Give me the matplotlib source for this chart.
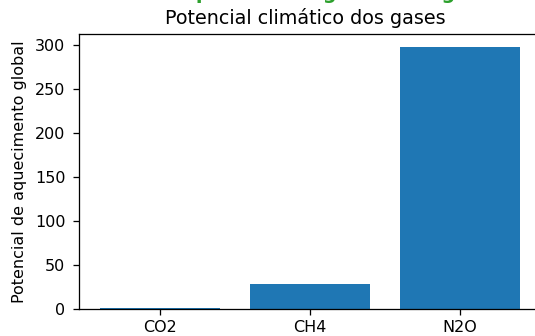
import matplotlib
matplotlib.use('Agg')
import matplotlib.pyplot as plt

GASES = ['CO2', 'CH4', 'N2O']
GWP = [1, 28, 298]

DPI = 115


def creates_graph():
    """Bar chart of global warming potential"""
    fig = plt.figure(figsize=(535 / DPI, 336 / DPI), dpi=DPI)
    ax = fig.add_axes([0.1477, 0.0813, 0.8636, 0.8175])
    ax.bar(GASES, GWP)
    ax.tick_params(axis='y', pad=5)
    ax.set_ylabel('Potencial de aquecimento global', labelpad=5)
    ax.set_title('Potencial climático dos gases', x=0.49)
    # suptitle of the original figure, mostly cut off at the top
    fig.text(0.326, 1.002, 'Aquecimento global dos gases', ha='left',
             va='baseline', color='tab:green', fontsize=12, fontweight='bold')
    fig.savefig('out.png', dpi=DPI)


if __name__ == '__main__':
    creates_graph()
